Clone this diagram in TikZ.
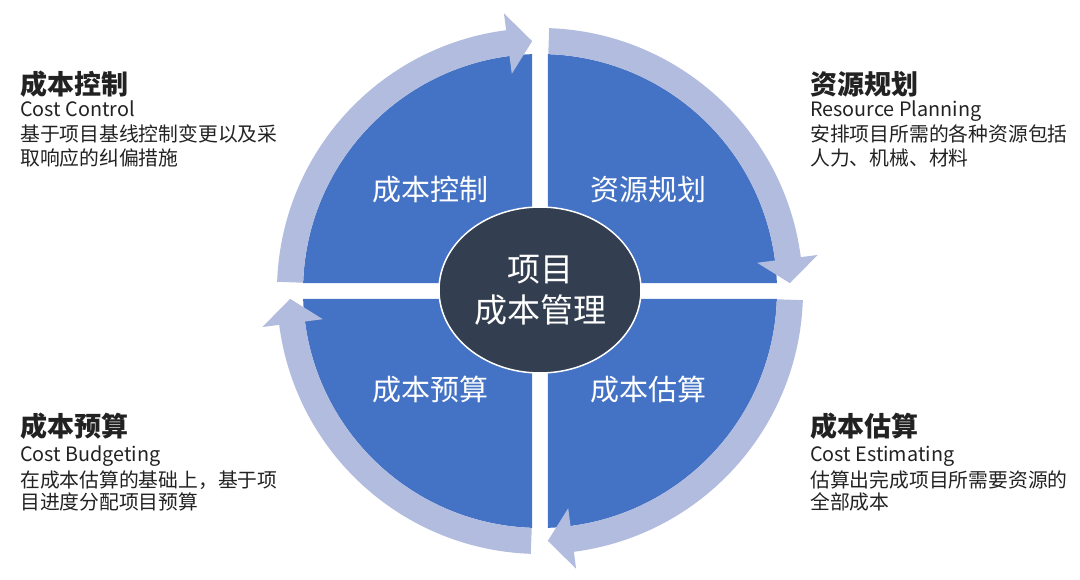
\documentclass[tikz,border=0pt]{standalone}
\usepackage{fontspec}
\setmainfont{Noto Sans CJK SC}
\usetikzlibrary{shapes.geometric}

\definecolor{qblue}{HTML}{4472C4}
\definecolor{qring}{HTML}{B2BCDF}
\definecolor{hubfill}{HTML}{333F50}
\definecolor{txtdark}{HTML}{222222}

\tikzset{
  quad/.style={fill=qblue},
  ringarrow/.style={fill=qring},
  qlabel/.style={text=white, inner sep=0pt, font=\fontsize{29}{29}\selectfont},
  sidetitle/.style={anchor=base west, inner sep=0pt, text=txtdark, font=\fontsize{27}{27}\selectfont\bfseries},
  sidetext/.style={anchor=base west, inner sep=0pt, text=txtdark, font=\fontsize{19.8}{19.8}\selectfont},
}

\begin{document}
\begin{tikzpicture}[x=1pt,y=1pt]
\useasboundingbox (0,0) rectangle (1080,579);

% four quadrants and the ring of arrows
\begin{scope}[shift={(540,288)}]
\foreach \r in {0,-90,-180,-270}{
  \begin{scope}[rotate=\r]
  \fill[quad] (-8,8) -- (91.93:237) arc[start angle=91.93, end angle=178.07, radius=237] -- cycle;
  \end{scope}
}
\foreach \r in {0,-90,-180,-270}{
  \begin{scope}[rotate=\r]
  \fill[ringarrow] (178:263) arc[start angle=178, end angle=97.4, radius=263]
    -- (97.4:280) -- (91.8:250) -- (97.4:219) -- (97.4:237)
    arc[start angle=97.4, end angle=178, radius=237] -- cycle;
  \end{scope}
}
\end{scope}

\node[qlabel] (ctrl) at (430.5,389) {成本控制};
\node[qlabel] (plan) at (648.5,389) {资源规划};
\node[qlabel] (budget) at (430.5,189) {成本预算};
\node[qlabel] (estim) at (648.5,189) {成本估算};

% hub
\node[ellipse, draw=white, line width=1.5pt, fill=hubfill, minimum width=202pt, minimum height=166pt,
  inner sep=0pt, text=white, align=center, font=\fontsize{33}{41}\selectfont] (hub) at (540,289) {项目\\成本管理};

% side texts
\node[sidetitle] (ctrl-t) at (20,484) {成本控制};
\node[sidetext] (ctrl-en) at (20,462) {Cost Control};
\node[sidetext] (ctrl-a) at (20,437) {基于项目基线控制变更以及采};
\node[sidetext] (ctrl-b) at (20,413) {取响应的纠偏措施};

\node[sidetitle] (plan-t) at (810,484) {资源规划};
\node[sidetext] (plan-en) at (810,462) {Resource Planning};
\node[sidetext] (plan-a) at (810,437) {安排项目所需的各种资源包括};
\node[sidetext] (plan-b) at (810,413) {人力、机械、材料};

\node[sidetitle] (budget-t) at (20,142) {成本预算};
\node[sidetext] (budget-en) at (20,117) {Cost Budgeting};
\node[sidetext] (budget-a) at (20,92) {在成本估算的基础上，基于项};
\node[sidetext] (budget-b) at (20,70) {目进度分配项目预算};

\node[sidetitle] (estim-t) at (810,142) {成本估算};
\node[sidetext] (estim-en) at (810,117) {Cost Estimating};
\node[sidetext] (estim-a) at (810,92) {估算出完成项目所需要资源的};
\node[sidetext] (estim-b) at (810,70) {全部成本};
\end{tikzpicture}
\end{document}
